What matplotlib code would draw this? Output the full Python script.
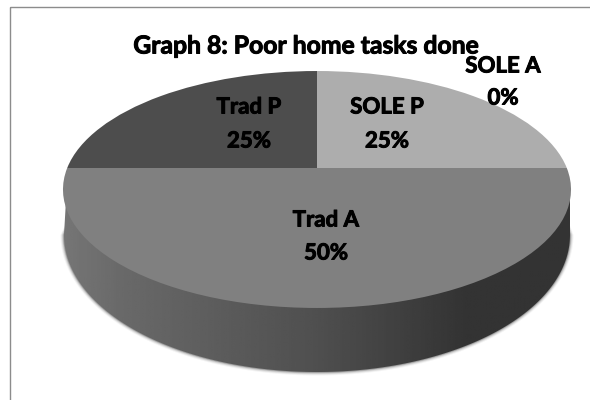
#!/usr/bin/env python3

import numpy as np
import matplotlib
matplotlib.use("Agg")
import matplotlib.pyplot as plt
import matplotlib.patheffects as pe
from matplotlib.patches import Polygon, Rectangle
from matplotlib.transforms import Transform

labels = ["SOLE A", "SOLE P", "Trad A", "Trad P"]
values = [0, 25, 50, 25]
title = "Graph 8: Poor home tasks done"

colors = ["#c8c8c8", "#adadad", "#808080", "#4d4d4d"]
label_pos = [(503, 66, 98), (387, 107, 141), (326, 220, 253), (249, 107, 141)]

# the pie top is a tilted disc, so the centre sits above the ellipse middle
CX, CY = 317, 168
K, Q, C = 249.8, -84.1, 0.1814


class Tilt(Transform):
	input_dims = 2
	output_dims = 2

	def transform_non_affine(self, xy):
		xy = np.asarray(xy)
		w = 1 + C * xy[:, 1]
		return np.column_stack((CX + K * xy[:, 0] / w, (CY + Q * xy[:, 1]) / w))


fig = plt.figure(figsize=(5.9, 4), dpi=100)
ax = fig.add_axes([0, 0, 1, 1])

wedges = ax.pie(values, colors=colors, startangle=90, counterclock=False, radius=1)[0]
for w in wedges:
	w.set_transform(Tilt() + ax.transData)
	w.set_zorder(5)
	w.set_linewidth(0)

ax.set_aspect("auto")
ax.axis("off")

# chart frame
ax.add_patch(Rectangle((10, 7), 700, 700, fill=False, ec="#8c8c8c", lw=1))

# outline of the pie side
t = np.linspace(np.pi, 0, 200)
side_x = 317 + 253 * np.cos(t)
side_y = 235 + 137 * np.sin(t)
side = np.column_stack((np.r_[66, side_x, 570], np.r_[200, side_y, 200]))

# soft shadow under the edge
for grow, alpha in [(3.5, 0.06), (2.5, 0.12), (1.5, 0.2), (0.7, 0.3)]:
	sx = 317 + (253 + grow) * np.cos(t)
	sy = 235 + (137 + grow) * np.sin(t)
	shadow = np.column_stack((np.r_[70, sx, 566], np.r_[215, sy, 215]))
	ax.add_patch(Polygon(shadow, fc="#404040", ec="none", alpha=alpha, zorder=2))

grad = np.interp(np.linspace(0, 1, 256), [0, 0.12, 0.5, 0.8, 1], [0.46, 0.41, 0.31, 0.2, 0.2])
img = ax.imshow(grad[None, :], cmap="gray", vmin=0, vmax=1, extent=(64, 571, 400, 150), aspect="auto", zorder=3)
clip = Polygon(side, transform=ax.transData, fc="none", ec="none")
ax.add_patch(clip)
img.set_clip_path(clip)
ax.set_xlim(0, 590)
ax.set_ylim(400, 0)

# Lato comes out light here, thicken it to look like the bold original
heavy = [pe.withStroke(linewidth=0.7, foreground="black")]
font = dict(ha="center", va="center", color="black", zorder=6, family=["Lato", "DejaVu Sans"], fontweight="bold", path_effects=heavy)
ax.text(306, 46, title, fontsize=17.8, **font)
for i in range(len(labels)):
	x, y1, y2 = label_pos[i]
	ax.text(x, y1, labels[i], fontsize=16, **font)
	ax.text(x, y2, "%d%%" % values[i], fontsize=16, **font)

fig.savefig("out.png", dpi=100)
